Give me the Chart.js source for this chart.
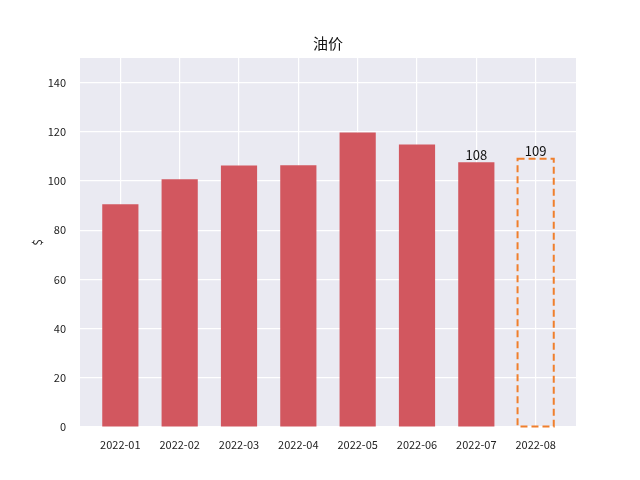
<!DOCTYPE html>
<html>
<head>
<meta charset="utf-8">
<script src="https://cdn.jsdelivr.net/npm/chart.js@4"></script>
<style>
html,body{margin:0;padding:0;background:#fff;}
#wrap{width:640px;height:480px;}
</style>
</head>
<body>
<div id="wrap"><canvas id="c" width="640" height="480"></canvas></div>
<script>
const months = ['2022-01','2022-02','2022-03','2022-04','2022-05','2022-06','2022-07','2022-08'];
const actualPrices = [90.5, 100.7, 106.3, 106.4, 119.7, 114.8, 107.6, null];
const forecastPrices = [null, null, null, null, null, null, null, 109];
const barLabels = [null, null, null, null, null, null, '108', '109'];
const yTicks = [0, 20, 40, 60, 80, 100, 120, 140];
const yMax = 150;

const FONT = "'Noto Sans CJK SC', 'DejaVu Sans', sans-serif";

const toPoints = arr => arr.map((v, i) => ({x: i, y: v}));

const bgPlugin = {
  id: 'bg',
  beforeDraw(chart) {
    const {ctx, chartArea: a} = chart;
    ctx.save();
    ctx.fillStyle = '#eaeaf2';
    ctx.fillRect(a.left, a.top, a.right - a.left, a.bottom - a.top);
    ctx.restore();
  }
};

const dashPlugin = {
  id: 'dashbar',
  afterDatasetsDraw(chart) {
    const {ctx} = chart;
    const meta = chart.getDatasetMeta(1);
    ctx.save();
    meta.data.forEach((el, i) => {
      if (forecastPrices[i] == null) return;
      const w = el.width;
      ctx.strokeStyle = '#f07f2c';
      ctx.lineWidth = 2;
      ctx.setLineDash([7, 4]);
      ctx.strokeRect(el.x - w / 2, el.y, w, el.base - el.y);
    });
    ctx.setLineDash([]);
    ctx.fillStyle = '#111';
    ctx.font = "13px " + FONT;
    ctx.textAlign = 'center';
    ctx.textBaseline = 'bottom';
    [0, 1].forEach(di => {
      chart.getDatasetMeta(di).data.forEach((el, i) => {
        const src = di === 0 ? actualPrices : forecastPrices;
        if (src[i] == null || !barLabels[i]) return;
        ctx.fillText(barLabels[i], el.x, el.y - 1);
      });
    });
    ctx.restore();
  }
};

new Chart(document.getElementById('c'), {
  type: 'bar',
  data: {
    datasets: [
      {
        data: toPoints(actualPrices),
        backgroundColor: '#d2575f',
        borderWidth: 0,
        grouped: false,
        barPercentage: 0.61,
        categoryPercentage: 1
      },
      {
        data: toPoints(forecastPrices),
        backgroundColor: 'rgba(0,0,0,0)',
        borderWidth: 0,
        grouped: false,
        barPercentage: 0.61,
        categoryPercentage: 1
      }
    ]
  },
  options: {
    responsive: false,
    animation: false,
    layout: {padding: {left: 0, right: 64, top: 34, bottom: 0}},
    plugins: {
      legend: {display: false},
      tooltip: {enabled: false},
      title: {
        display: true,
        text: '油价',
        fullSize: false,
        color: '#111',
        font: {family: FONT, size: 15, weight: 'normal'},
        padding: {top: 0, bottom: 6}
      }
    },
    scales: {
      x: {
        type: 'linear',
        min: -0.68,
        max: 7.68,
        offset: false,
        border: {display: false},
        grid: {color: '#ffffff', lineWidth: 1.2, drawTicks: false, offset: false},
        afterBuildTicks(scale) { scale.ticks = months.map((_, i) => ({value: i})); },
        afterFit(scale) { scale.height = 53; },
        ticks: {
          color: '#222',
          font: {family: FONT, size: 11},
          padding: 11,
          maxRotation: 0,
          autoSkip: false,
          callback: v => months[v]
        }
      },
      y: {
        min: 0,
        max: yMax,
        border: {display: false},
        grid: {color: '#ffffff', lineWidth: 1.2, drawTicks: false},
        afterBuildTicks(scale) { scale.ticks = yTicks.map(v => ({value: v})); },
        afterFit(scale) { scale.width = 80; },
        title: {
          display: true,
          text: '$',
          color: '#222',
          font: {family: FONT, size: 12},
          padding: {top: 30, bottom: 0}
        },
        ticks: {
          color: '#222',
          font: {family: FONT, size: 11},
          padding: 14
        }
      }
    }
  },
  plugins: [bgPlugin, dashPlugin]
});
</script>
</body>
</html>
